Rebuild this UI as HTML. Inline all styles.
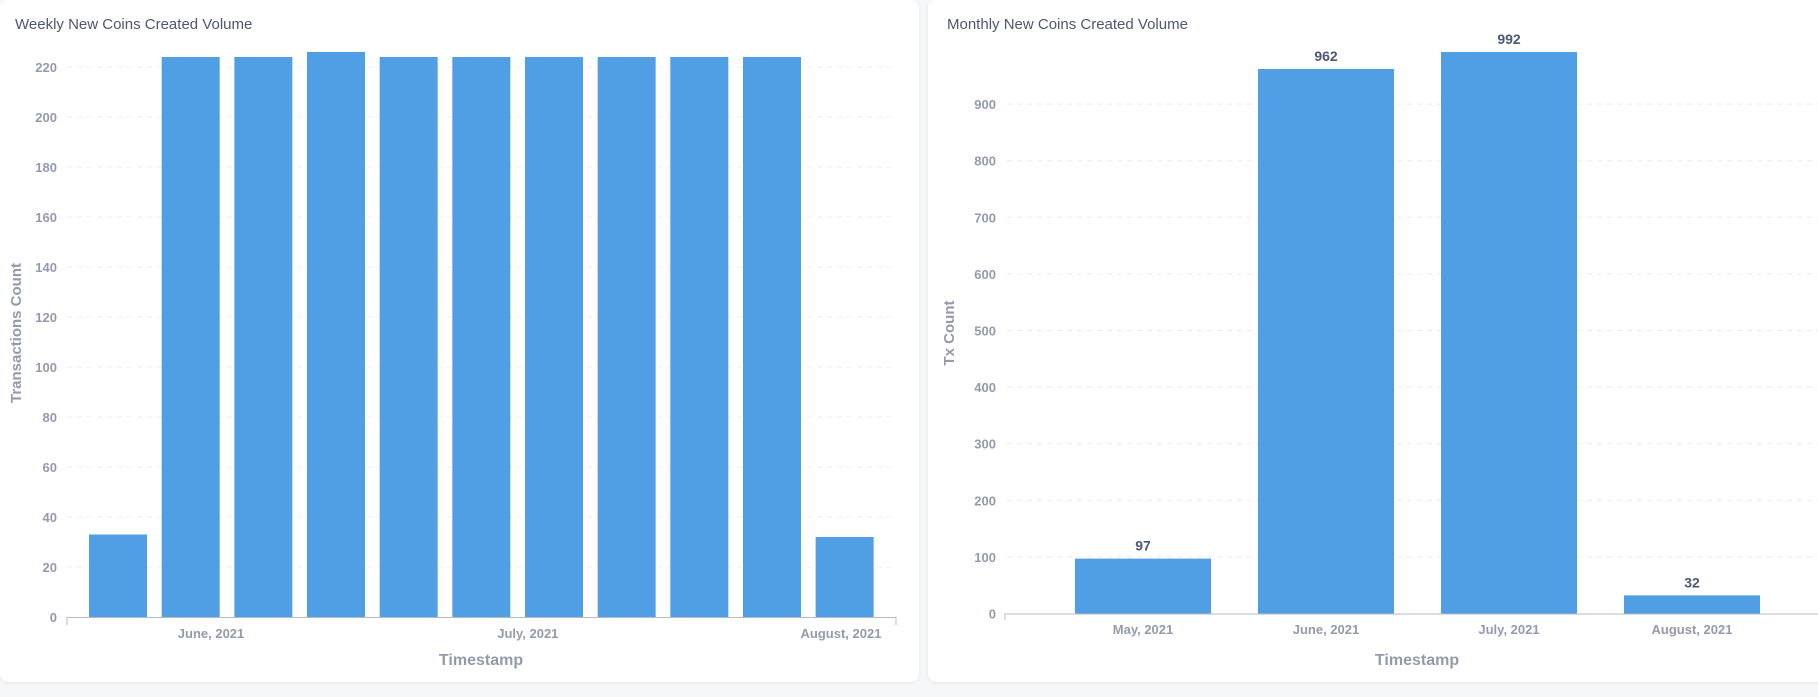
<!DOCTYPE html>
<html><head><meta charset="utf-8"><style>
body{margin:0;width:1818px;height:697px;background:#f5f7f9;overflow:hidden;font-family:"Liberation Sans",sans-serif;}
.panel{position:absolute;background:#fff;border-radius:8px;box-shadow:0 1px 3px rgba(0,0,0,0.08);}
svg text{font-family:"Liberation Sans",sans-serif;}
</style></head><body>
<div class="panel" style="left:0;top:0;width:919px;height:682px"></div>
<div class="panel" style="left:928px;top:0;width:900px;height:682px"></div>
<svg id="s" width="1818" height="697" style="position:absolute;left:0;top:0">
<text x="15" y="29" font-size="15" fill="#4c5773">Weekly New Coins Created Volume</text>
<text x="947" y="29" font-size="15" fill="#4c5773">Monthly New Coins Created Volume</text>
<text transform="translate(21,333) rotate(-90)" text-anchor="middle" font-size="15" font-weight="bold" fill="#949aab">Transactions Count</text>
<text transform="translate(954,333) rotate(-90)" text-anchor="middle" font-size="15" font-weight="bold" fill="#949aab">Tx Count</text>
<text x="481" y="665" text-anchor="middle" font-size="16" font-weight="bold" fill="#949aab">Timestamp</text>
<text x="1417" y="665" text-anchor="middle" font-size="16" font-weight="bold" fill="#949aab">Timestamp</text>
</svg>
<script>
const weeklyValues=[33,224,224,226,224,224,224,224,224,224,32];
const weeklyTicks=[0,20,40,60,80,100,120,140,160,180,200,220];
const weeklyLabels=["June, 2021","July, 2021","August, 2021"];
const weeklyLabelPos=[1.28,5.64,9.95];
const monthlyCats=["May, 2021","June, 2021","July, 2021","August, 2021"];
const monthlyValues=[97,962,992,32];
const monthlyTicks=[0,100,200,300,400,500,600,700,800,900];

const svg=document.getElementById('s');
const NS='http://www.w3.org/2000/svg';
function mk(tag,attrs,txt){const e=document.createElementNS(NS,tag);for(const k in attrs)e.setAttribute(k,attrs[k]);if(txt!==undefined)e.textContent=txt;svg.appendChild(e);return e;}

// weekly
const wy=v=>617-v*2.5;
const wx=i=>81.7+(i+0.5)*72.66;
weeklyTicks.forEach(t=>{
  if(t>0){const g=mk('line',{x1:67,x2:896,y1:wy(t),y2:wy(t),stroke:'#ececec','stroke-dasharray':'5,5'});
  
  }
  const l=mk('text',{x:57,y:wy(t)+5,'text-anchor':'end','font-size':13,'font-weight':'bold',fill:'#949aab'},t);
  
  
});
weeklyValues.forEach((v,i)=>{
  const b=mk('rect',{x:wx(i)-29,y:wy(v),width:58,height:v*2.5,fill:'#509ee3'});
  
  
});
const wa=mk('path',{d:'M67,625V617.5H896V625',stroke:'#b8bbc3',fill:'none'});


weeklyLabels.forEach((s,k)=>{
  const l=mk('text',{x:wx(weeklyLabelPos[k]),y:638,'text-anchor':'middle','font-size':13,'font-weight':'bold',fill:'#949aab'},s);
  
  
});

// monthly
const my=v=>613.5-v*0.566;
const mx=i=>1143+i*183;
monthlyTicks.forEach(t=>{
  if(t>0){const g=mk('line',{x1:1007,x2:1818,y1:my(t),y2:my(t),stroke:'#ececec','stroke-dasharray':'5,5'});
  
  }
  const l=mk('text',{x:996,y:my(t)+5,'text-anchor':'end','font-size':13,'font-weight':'bold',fill:'#949aab'},t);
  
  
});
monthlyValues.forEach((v,i)=>{
  const b=mk('rect',{x:mx(i)-68,y:my(v),width:136,height:v*0.566,fill:'#509ee3'});
  
  
  const t=mk('text',{x:mx(i),y:my(v)-8,'text-anchor':'middle','font-size':14,'font-weight':'bold',fill:'#4c5773'},v);
  
  
  const l=mk('text',{x:mx(i),y:634,'text-anchor':'middle','font-size':13,'font-weight':'bold',fill:'#949aab'},monthlyCats[i]);
  
  
});
const ma=mk('path',{d:'M1005,620V614H1818',stroke:'#b8bbc3',fill:'none'});


</script>
</body></html>
